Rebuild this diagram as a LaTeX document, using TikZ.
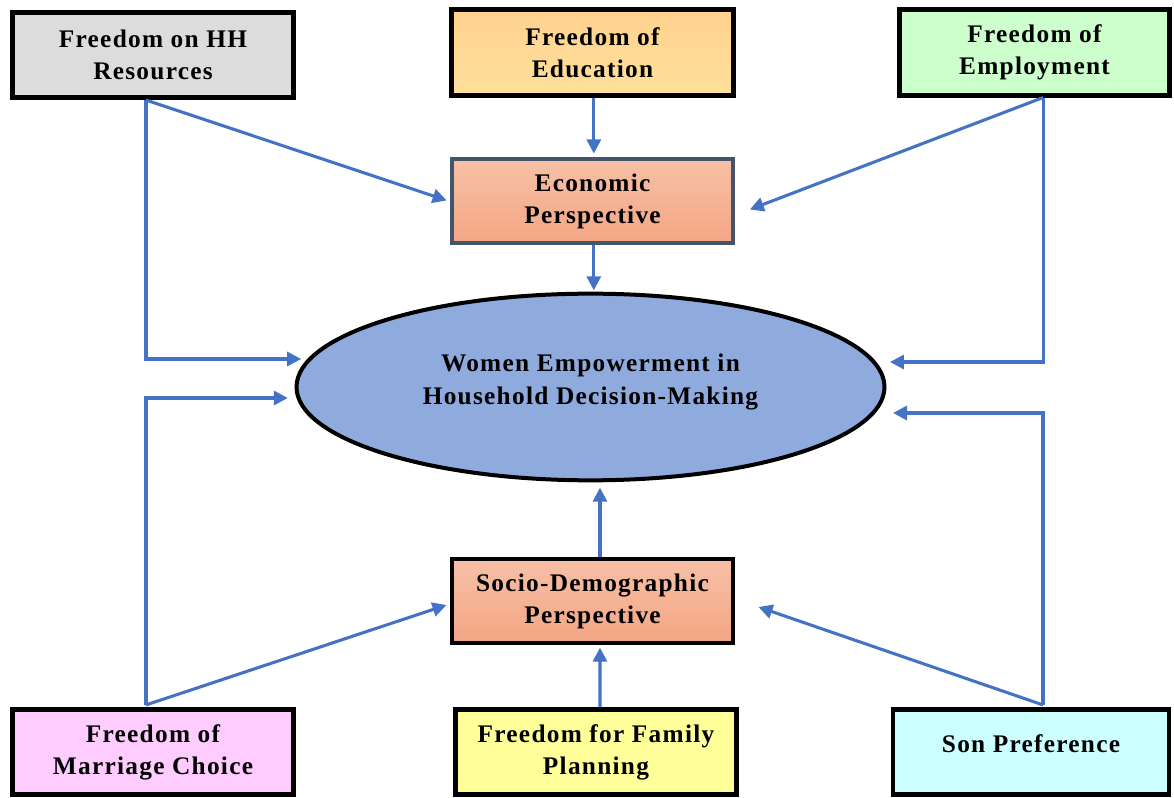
\documentclass[tikz,border=0pt]{standalone}
\usepackage{fontspec}
\setmainfont{Liberation Serif}
\newfontfamily\boxfont[LetterSpace=5]{Liberation Serif}
\usetikzlibrary{arrows.meta,shapes.geometric}

\definecolor{linkblue}{HTML}{4472C4}
\definecolor{hhgrey}{HTML}{DCDCDC}
\definecolor{edutop}{HTML}{FFD28E}
\definecolor{edubot}{HTML}{FFE09C}
\definecolor{empgreen}{HTML}{CCFFCC}
\definecolor{perstop}{HTML}{F7C0A6}
\definecolor{persbot}{HTML}{F4A684}
\definecolor{ecoedge}{HTML}{44546A}
\definecolor{ellblue}{HTML}{8FAADC}
\definecolor{marpink}{HTML}{FFCCFF}
\definecolor{famyellow}{HTML}{FFFF99}
\definecolor{soncyan}{HTML}{CCFFFF}

\begin{document}
\begin{tikzpicture}[x=0.75pt,y=-0.75pt]

    \tikzset{
      factor/.style={
        draw=black,
        line width=3.6pt,
        minimum width=211pt,
        minimum height=64pt,
        align=center,
        inner sep=0pt,
        font=\boxfont\bfseries\fontsize{19}{24}\selectfont,
      },
      persp/.style={
        factor,
        line width=3pt,
        minimum height=63pt,
      },
      link/.style={
        draw=linkblue,
        line width=2.3pt,
        -{Triangle[length=10.5pt,width=10.5pt]},
      },
    }
    \useasboundingbox (0,0) rectangle (1174,798);

    % top row
    \node[factor, fill=hhgrey] (hh) at (153,55) {Freedom on HH\\Resources};
    \node[factor, top color=edutop, bottom color=edubot] (edu) at (592.5,52.5) {Freedom of\\Education};
    \node[factor, fill=empgreen, minimum width=203pt] (emp) at (1034.5,52.5) {Freedom of\\Employment};

    % perspectives and centre
    \node[persp, draw=ecoedge, top color=perstop, bottom color=persbot] (eco) at (592.5,201.5) {Economic\\Perspective};
    \node[ellipse, draw=black, line width=3pt, fill=ellblue, inner sep=0pt,
          minimum width=441pt, minimum height=140pt,
          font=\boxfont\bfseries\fontsize{19}{25}\selectfont] (ell) at (590.5,387)
      {\raisebox{0pt}[0pt][0pt]{\begin{tabular}{@{}c@{}}Women Empowerment in\\Household Decision-Making\end{tabular}}};
    \node[persp, top color=perstop, bottom color=persbot] (socio) at (592.5,601) {Socio-Demographic\\Perspective};

    % bottom row
    \node[factor, fill=marpink] (mar) at (153,752) {Freedom of\\Marriage Choice};
    \node[factor, fill=famyellow] (fam) at (596,752) {Freedom for Family\\Planning};
    \node[factor, fill=soncyan, minimum width=207pt] (son) at (1031,752) {\raisebox{0pt}[0pt][0pt]{Son Preference}};

    % connectors
    \coordinate (hhout) at ([xshift=-5.25pt]hh.south);
    \coordinate (empout) at ([xshift=6.4pt]emp.south);
    \coordinate (marout) at ([xshift=-5.25pt,yshift=1.5pt]mar.north);
    \coordinate (sonout) at ([xshift=9pt,yshift=1.5pt]son.north);

    \draw[link, shorten >=2.5pt] (hhout) -- (eco.west);
    \draw[link] (hhout) |- ([xshift=5pt,yshift=21pt]ell.west);
    \draw[link, shorten >=3pt] ([xshift=1pt]edu.south) -- ([xshift=1pt]eco.north);
    \draw[link] (empout) -- ([xshift=11pt,yshift=-6pt]eco.east);
    \draw[link] (empout) |- ([xshift=2.6pt,yshift=18.75pt]ell.east);
    \draw[link, shorten >=1pt] ([xshift=1pt]eco.south) -- ([xshift=1pt]eco.south |- ell.north);

    \draw[link] (marout) -- ([xshift=-2.5pt,yshift=-3pt]socio.west);
    \draw[link] (marout) |- ([xshift=-5pt,yshift=-8.25pt]ell.west);
    \draw[link, shorten >=2pt] ([xshift=3pt]fam.north) -- ([xshift=5.6pt]socio.south);
    \draw[link] ([xshift=5.6pt]socio.north) -- ([xshift=5.6pt,yshift=-4pt]socio.north |- ell.south);
    \draw[link] (sonout) -- ([xshift=17.5pt,yshift=-4.5pt]socio.east);
    \draw[link] (sonout) |- ([xshift=4.9pt,yshift=-19.5pt]ell.east);

\end{tikzpicture}
\end{document}
